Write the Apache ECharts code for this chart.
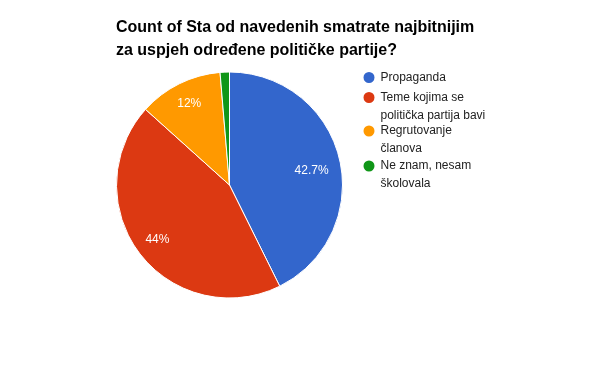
<!DOCTYPE html>
<html>
<head>
<meta charset="utf-8">
<script src="https://cdn.jsdelivr.net/npm/echarts@6/dist/echarts.min.js"></script>
<style>html,body{margin:0;padding:0;background:#fff}#c{width:600px;height:371px}</style>
</head>
<body>
<div id="c"></div>
<script>
var titleLines = ['Count of Sta od navedenih smatrate najbitnijim', 'za uspjeh određene političke partije?'];
var categories = ['Propaganda', 'Teme kojima se politička partija bavi', 'Regrutovanje članova', 'Ne znam, nesam školovala'];
var legendLines = [['Propaganda'], ['Teme kojima se', 'politička partija bavi'], ['Regrutovanje', 'članova'], ['Ne znam, nesam', 'školovala']];
var counts = [32, 33, 9, 1];
var colors = ['#3366cc', '#dc3912', '#ff9900', '#109618'];

var chart = echarts.init(document.getElementById('c'), null, {renderer: 'canvas'});
var total = counts.reduce(function (a, b) { return a + b; }, 0);

var iconCenters = [77.5, 97.5, 131, 166];
var LH = 18;
var legends = categories.map(function (name, i) {
  var n = legendLines[i].length;
  var lines = legendLines[i].slice();
  for (var k = 1; k < n; k++) lines.unshift(' ');
  var boxH = Math.max(13, lines.length * LH);
  return {
    orient: 'vertical',
    left: 361.5,
    top: iconCenters[i] - boxH / 2,
    padding: 0,
    icon: 'circle',
    itemWidth: 13,
    itemHeight: 13,
    selectedMode: false,
    data: [{name: name}],
    formatter: function () { return lines.join('\n'); },
    textStyle: {fontFamily: 'Liberation Sans, Arial, sans-serif', fontSize: 12, color: '#222222', lineHeight: LH}
  };
});

var pieData = categories.map(function (name, i) {
  return {name: name, value: counts[i], itemStyle: {color: colors[i]}};
});
var labelData = categories.map(function (name, i) {
  var d = {name: name, value: counts[i]};
  if (i === 0) d.label = {offset: [-6, 6]};
  if (counts[i] / total < 0.05) d.label = {show: false};
  return d;
});

chart.setOption({
  animation: false,
  title: {
    text: titleLines.join('\n'),
    left: 116,
    top: 16,
    padding: 0,
    textStyle: {fontFamily: 'Liberation Sans, Arial, sans-serif', fontSize: 16, fontWeight: 'bold', color: '#000000', lineHeight: 23}
  },
  legend: legends,
  series: [
    {
      type: 'pie',
      center: [229.5, 185],
      radius: [0, 113],
      startAngle: 90,
      clockwise: true,
      silent: true,
      label: {show: false},
      labelLine: {show: false},
      itemStyle: {borderColor: '#ffffff', borderWidth: 1},
      data: pieData
    },
    {
      type: 'pie',
      center: [229.5, 185],
      radius: [62, 113],
      startAngle: 90,
      clockwise: true,
      silent: true,
      z: 3,
      itemStyle: {color: 'rgba(0,0,0,0)'},
      labelLine: {show: false},
      label: {
        show: true,
        position: 'inside',
        color: '#ffffff',
        fontFamily: 'Liberation Sans, Arial, sans-serif',
        fontSize: 12,
        formatter: function (p) {
          var v = Math.round(p.value / total * 1000) / 10;
          return v + '%';
        }
      },
      data: labelData
    }
  ]
});
</script>
</body>
</html>
